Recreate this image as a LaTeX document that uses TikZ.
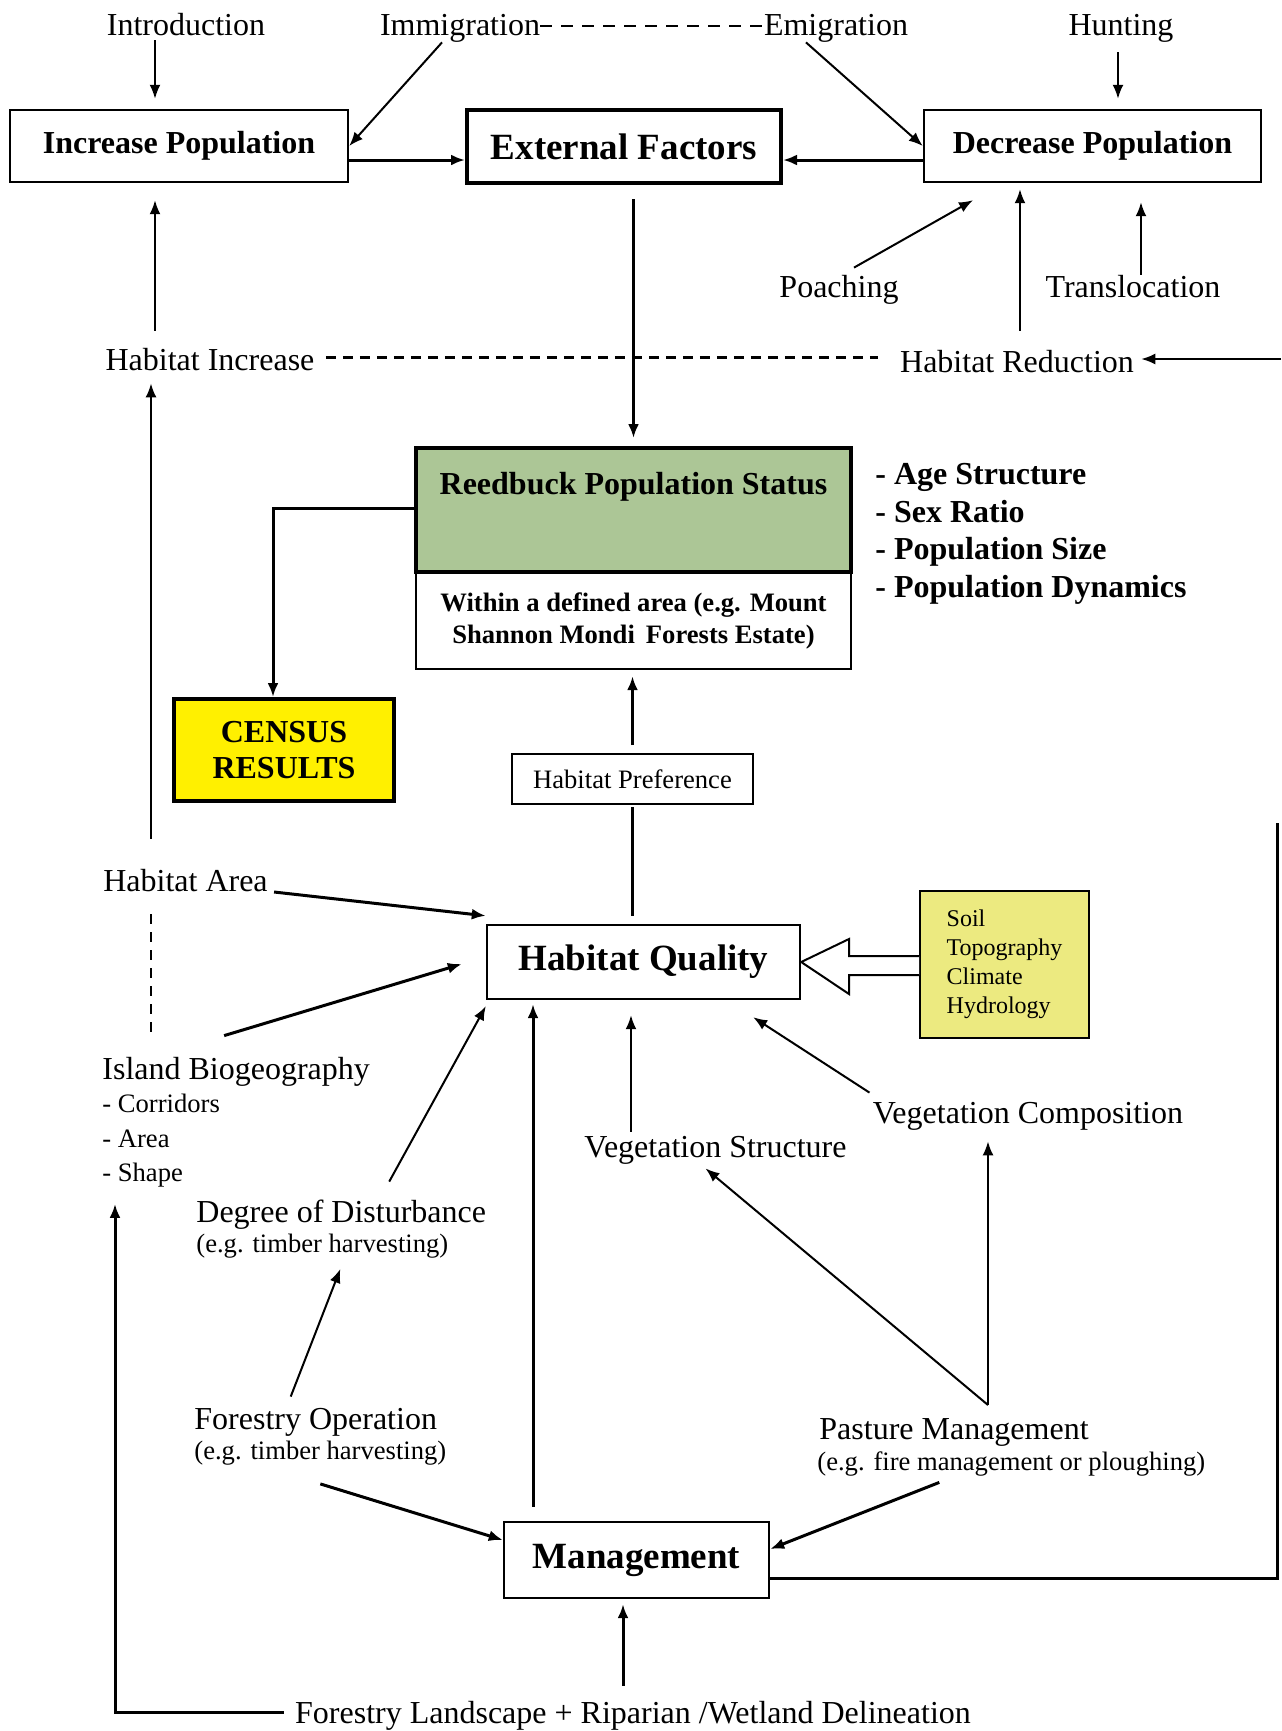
\documentclass[tikz,border=0pt]{standalone}
\usepackage{fontspec}
\setmainfont{Liberation Serif}
\usetikzlibrary{arrows.meta}

\definecolor{reedgreen}{RGB}{172,198,150}
\definecolor{censusyellow}{RGB}{255,240,0}
\definecolor{soilyellow}{RGB}{236,234,128}

\newcommand{\fntreg}{\fontsize{16}{19}\selectfont}
\newcommand{\fntsm}{\fontsize{13.3}{16}\selectfont}
\newcommand{\fntbox}{\fontsize{16}{18}\selectfont\bfseries}
\newcommand{\fntbig}{\fontsize{18.5}{22}\selectfont\bfseries}

\tikzset{
  lbl/.style={inner sep=0pt, text height=11pt, text depth=0pt, font=\fntreg},
  lblsm/.style={inner sep=0pt, text height=9.5pt, text depth=0pt, font=\fntsm},
  box/.style={draw, line width=1.2pt, fill=white, inner sep=0pt},
  arr/.style={-{Latex[length=7pt,width=5.5pt]}, line width=1pt},
  heavy/.style={line width=1.5pt},
}

\begin{document}
\begin{tikzpicture}[x=0.5pt, y=-0.5pt]
\useasboundingbox (0,0) rectangle (1281,1731);

% top row
\node[lbl] (intro) at (186,24) {Introduction};
\node[lbl] (immig) at (460,24) {Immigration};
\node[lbl] (emig) at (836,24) {Emigration};
\node[lbl] (hunt) at (1121,24) {Hunting};

\node[box, font=\fntbox, minimum width=169pt, minimum height=36pt] (incr) at (179,146) {Increase Population};
\node[box, font=\fntbig, line width=2pt, minimum width=157pt, minimum height=36.5pt] (ext) at (624,146.5) {External Factors};
\node[box, font=\fntbox, minimum width=168.5pt, minimum height=36pt] (decr) at (1092.5,146) {Decrease Population};

\node[lbl] (poach) at (839,286) {Poaching};
\node[lbl] (transloc) at (1133,286) {Translocation};
\node[lbl] (habinc) at (210,359) {Habitat Increase};
\node[lbl] (habred) at (1017,361) {Habitat Reduction};
\coordinate (redin) at (1281,359);

% population status
\node[box, font=\fntsm\bfseries, align=center, minimum width=217.5pt, minimum height=48.5pt] (reedarea) at (633.5,620.5) {Within a defined area (e.g. Mount\\Shannon Mondi\, Forests Estate)};
\node[draw, line width=2pt, fill=reedgreen, inner sep=0pt, font=\fntbox, text height=23pt, text depth=39pt, minimum width=217.5pt] (reed) at (633.5,510) {Reedbuck Population Status};
\node[anchor=west, align=left, inner sep=0pt, font=\fontsize{16}{18.75}\selectfont\bfseries] (traits) at (875,534) {- Age Structure\\- Sex Ratio\\- Population Size\\- Population Dynamics};
\node[box, fill=censusyellow, line width=2pt, align=center, font=\fntbox, minimum width=110pt, minimum height=51pt] (census) at (284,750) {CENSUS\\RESULTS};
\node[box, line width=1pt, font=\fntsm, minimum width=120.5pt, minimum height=25pt] (habpref) at (632.5,779) {Habitat Preference};

% habitat
\node[box, font=\fntbig, minimum width=156.5pt, minimum height=37pt] (habq) at (643.5,962) {Habitat Quality};
\node[box, fill=soilyellow, line width=1pt, align=left, font=\fontsize{12}{14.5}\selectfont, minimum width=84.5pt, minimum height=73.5pt] (soil) at (1004.5,964.5) {Soil\\Topography\\Climate\\Hydrology};
\node[lbl] (habarea) at (185.5,880) {Habitat Area};
\node[lbl, anchor=west] (island) at (102,1068) {Island Biogeography};
\node[anchor=north west, align=left, inner sep=0pt, font=\fontsize{13.3}{17.25}\selectfont] (islist) at (102,1094) {- Corridors\\- Area\\- Shape};
\node[lbl, anchor=west] (degree) at (196,1211) {Degree of Disturbance};
\node[lblsm, anchor=west] (degreeeg) at (196,1243) {(e.g. timber harvesting)};
\node[lbl] (vegstr) at (715.5,1146) {Vegetation Structure};
\node[lbl] (vegcomp) at (1028,1112) {Vegetation Composition};

% management
\node[lbl, anchor=west] (forop) at (194,1418) {Forestry Operation};
\node[lblsm, anchor=west] (foropeg) at (194,1450) {(e.g. timber harvesting)};
\node[lbl, anchor=west] (pasture) at (819,1428) {Pasture Management};
\node[lblsm, anchor=west] (pastureeg) at (817,1461) {(e.g. fire management or ploughing)};
\coordinate (pastop) at (988,1405);
\node[box, font=\fntbig, minimum width=132.5pt, minimum height=38pt] (mgmt) at (636.5,1560) {Management};
\node[lbl] (forland) at (633,1712) {Forestry Landscape + Riparian /Wetland Delineation};
\coordinate (rtop) at (1277,823);

% hollow arrow from the soil box
\draw[line width=1pt, fill=white] (soil.west |- 0,956) -- (849,956) -- (849,939) -- (habq.east)
  -- (849,994) -- (849,975) -- (soil.west |- 0,975);

% dashed links
\draw[line width=1.2pt, dash pattern=on 6pt off 4.5pt] ([yshift=-1pt]immig.east) -- ([yshift=-1pt]emig.west);
\draw[line width=1.5pt, dash pattern=on 5pt off 3.5pt, shorten <=5.5pt, shorten >=11pt] ([yshift=1pt]habinc.east) -- ([yshift=1pt]habred.west |- habinc.east);
\draw[line width=0.6pt, dash pattern=on 5pt off 4pt, shorten <=11.5pt, shorten >=12pt] (habarea.south -| 151,0) -- (island.north -| 151,0);

\draw[heavy, shorten <=4pt, shorten >=1pt] (habq.north -| habpref.south) -- (habpref.south);

\begin{scope}[arr]
\draw[shorten <=2.5pt, shorten >=5pt] (intro.south -| 155,0) -- (incr.north -| 155,0);
\draw ([xshift=-9pt,yshift=-3.5pt]immig.south) -- (incr.east);
\draw ([xshift=-15pt,yshift=-3.5pt]emig.south) -- (decr.west);
\draw[shorten <=8.5pt, shorten >=5pt] (hunt.south -| 1118,0) -- (decr.north -| 1118,0);
\draw[heavy] (incr.east |- 0,160) -- (ext.west |- 0,160);
\draw[heavy] (decr.west |- 0,160) -- (ext.east |- 0,160);
\draw ([xshift=7.5pt,yshift=3.5pt]poach.north) -- ([xshift=-59.75pt,yshift=-8.5pt]decr.south);
\draw[shorten >=9.5pt] (transloc.north -| 1141,0) -- (decr.south -| 1141,0);
\draw[shorten <=9.5pt, shorten >=3pt] (habred.north -| 1020,0) -- (decr.south -| 1020,0);
\draw[shorten >=3.5pt] (redin) -- (habred.east |- redin);
\draw[shorten <=8.5pt, shorten >=8.5pt] (habinc.north -| 155,0) -- (incr.south -| 155,0);
\draw[shorten <=15pt, shorten >=6.5pt] (habarea.north -| 151,0) -- (habinc.south -| 151,0);
\draw[heavy, shorten <=7pt, shorten >=4pt] (ext.south -| reed.north) -- (reed.north);
\draw[heavy] (reed.west |- 0,508) -| ([xshift=-5.5pt]census.north);
\draw[heavy, shorten <=4pt, shorten >=3pt] (habpref.north) -- (reedarea.south -| habpref.north);
\draw[heavy, shorten <=7pt, shorten >=2pt] (mgmt.north -| 533,0) -- (habq.south -| 533,0);
\draw[heavy] ([xshift=3pt,yshift=-6pt]habarea.east) -- ([yshift=4pt]habq.north west);
\draw[heavy] ([xshift=-6pt,yshift=10.5pt]island.north) -- ([xshift=-12pt,yshift=-1pt]habq.west);
\draw ([xshift=24pt,yshift=9pt]degree.north) -- ([yshift=-3pt]habq.south west);
\draw[shorten <=1.5pt, shorten >=7.5pt] (vegstr.north -| 631,0) -- (habq.south -| 631,0);
\draw ([xshift=-1.5pt,yshift=4pt]vegcomp.north west) -- ([xshift=-24pt,yshift=-8.5pt]habq.south east);
\draw[shorten >=9pt] (pastop) -- (vegcomp.south -| pastop);
\draw (pastop) -- ([xshift=-5pt,yshift=-5.5pt]vegstr.south);
\draw ([xshift=-12.5pt,yshift=5pt]forop.north) -- ([xshift=9pt,yshift=-8pt]degreeeg.south);
\draw[heavy] ([yshift=-12pt]foropeg.south) -- ([yshift=10pt]mgmt.west);
\draw[heavy] ([xshift=-36pt,yshift=-5.75pt]pastureeg.south) -- ([yshift=5.5pt]mgmt.east);
\draw[heavy, shorten <=7.5pt, shorten >=2.5pt] (forland.north -| 623,0) -- (mgmt.south -| 623,0);
\draw[heavy, shorten >=8pt] ([xshift=-5.5pt]forland.west) -| (islist.south -| 115,0);
\end{scope}
\draw[heavy] (mgmt.east |- 0,1578) -| (rtop);

\end{tikzpicture}
\end{document}
